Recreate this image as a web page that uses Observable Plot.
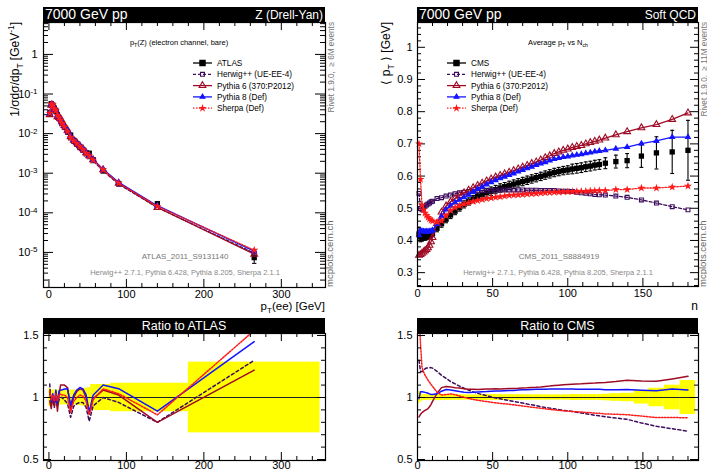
<!DOCTYPE html>
<html>
<head>
<meta charset="utf-8">
<script src="https://cdn.jsdelivr.net/npm/d3@7"></script>
<script src="https://cdn.jsdelivr.net/npm/@observablehq/plot@0.6"></script>
<style>
  html, body { margin: 0; padding: 0; background: #fff; }
  #root { position: relative; width: 707px; height: 471px; overflow: hidden; background: #fff; }
  #root text { white-space: pre; }
</style>
</head>
<body>
<div id="root"></div>
<script>
// ================= DATA: Z (Drell-Yan) pT, ATLAS_2011_S9131140 =================
const zBinLo = [0,2,4,6,8,10,12,14,16,18,22,26,30,34,38,42,46,50,54,60,80,100,180];
const zBinHi = [2,4,6,8,10,12,14,16,18,22,26,30,34,38,42,46,50,54,60,80,100,180,350];
const atlas = [0.031,0.057,0.052,0.044,0.037,0.030,0.025,0.0215,0.018,0.0145,0.0113,0.0092,0.0068,0.0056,0.0046,0.0039,0.0033,0.0032,0.0022,0.00115,0.00055,0.00017,0.0000074];
const atlasRelErr = [0.07,0.06,0.06,0.06,0.06,0.06,0.06,0.06,0.06,0.06,0.06,0.06,0.06,0.06,0.065,0.07,0.075,0.08,0.105,0.105,0.115,0.115,0.285];
const zHerwig  = [0.0344,0.0536,0.052,0.0405,0.0377,0.0279,0.0245,0.0215,0.018,0.0142,0.01074,0.00773,0.00632,0.00532,0.00442,0.00374,0.00304,0.00259,0.00205,0.00115,0.000528,0.000136,0.00000962];
const zPythia6 = [0.0301,0.0519,0.052,0.0409,0.0377,0.0267,0.0255,0.02365,0.0198,0.01595,0.0122,0.00837,0.0068,0.00588,0.00492,0.00413,0.0033,0.00278,0.00218,0.001219,0.000561,0.000136,0.00000903];
const zPythia8 = [0.0322,0.0553,0.0536,0.0422,0.0392,0.0285,0.0263,0.0228,0.0191,0.0155,0.0121,0.00865,0.00694,0.00594,0.00497,0.00417,0.00337,0.00282,0.00224,0.001265,0.000589,0.0001513,0.00001073];
const zSherpa  = [0.0326,0.0559,0.053,0.0427,0.0381,0.0291,0.0255,0.0221,0.01836,0.01479,0.0113,0.0081,0.0066,0.0056,0.00469,0.00394,0.0032,0.00275,0.00216,0.00123,0.000567,0.0001462,0.0000114];
const zTickX = [0,100,200,300];
const zTickY = [1,1e-1,1e-2,1e-3,1e-4,1e-5];

// ================= DATA: Soft QCD <pT> vs Nch, CMS_2011_S8884919 =================
const nch = [1,2,3,4,5,6,7,8,9,10,
  13,16,19,22,25,28,31,34,37,40,
  43,46,49,52,55,58,61,64,67,70,
  73,76,79,82,85,88,91,94,97,100,
  103,106,109,112,115,118,121,125,132,139.5,
  149,159,169.5,180];
const nchLastEdge = 185;
const cms = [0.420,0.412,0.410,0.410,0.411,0.412,0.414,0.416,0.419,0.422,
  0.438,0.452,0.466,0.479,0.491,0.502,0.512,0.521,0.529,0.536,
  0.542,0.548,0.553,0.558,0.563,0.567,0.571,0.575,0.579,0.583,
  0.587,0.591,0.595,0.599,0.603,0.607,0.611,0.614,0.617,0.619,
  0.622,0.624,0.626,0.629,0.631,0.634,0.636,0.640,0.645,0.648,
  0.662,0.672,0.675,0.680];
const cmsErr = [0.021,0.016,0.012,0.010,0.010,0.010,0.010,0.010,0.010,0.010,
  0.011,0.011,0.011,0.011,0.011,0.011,0.011,0.011,0.011,0.011,
  0.013,0.013,0.013,0.013,0.013,0.013,0.013,0.013,0.013,0.013,
  0.013,0.013,0.013,0.013,0.013,0.013,0.013,0.013,0.013,0.013,
  0.015,0.015,0.015,0.015,0.015,0.015,0.015,0.017,0.020,0.022,
  0.035,0.050,0.067,0.093];
const qHerwig = [0.546,0.499,0.495,0.500,0.506,0.510,0.513,0.516,0.520,0.522,
  0.530,0.533,0.538,0.541,0.545,0.548,0.550,0.552,0.553,0.554,
  0.555,0.556,0.556,0.556,0.557,0.557,0.557,0.557,0.557,0.557,
  0.556,0.556,0.556,0.555,0.555,0.555,0.555,0.554,0.553,0.553,
  0.552,0.550,0.548,0.547,0.545,0.543,0.542,0.541,0.538,0.534,
  0.526,0.516,0.505,0.495];
const qPythia6 = [0.354,0.356,0.360,0.364,0.368,0.372,0.377,0.385,0.396,0.409,
  0.453,0.488,0.507,0.520,0.530,0.540,0.548,0.556,0.564,0.571,
  0.578,0.585,0.591,0.597,0.602,0.607,0.612,0.617,0.622,0.628,
  0.633,0.639,0.644,0.650,0.657,0.663,0.670,0.675,0.680,0.684,
  0.689,0.692,0.695,0.700,0.704,0.708,0.712,0.718,0.728,0.738,
  0.750,0.760,0.776,0.796];
const qPythia8 = [0.416,0.431,0.429,0.428,0.428,0.428,0.428,0.428,0.429,0.432,
  0.451,0.475,0.496,0.508,0.518,0.526,0.534,0.542,0.551,0.560,
  0.567,0.574,0.581,0.587,0.593,0.598,0.603,0.608,0.614,0.619,
  0.624,0.629,0.634,0.639,0.643,0.648,0.653,0.656,0.659,0.661,
  0.664,0.666,0.668,0.671,0.673,0.676,0.678,0.680,0.685,0.690,
  0.701,0.709,0.721,0.721];
const qSherpa = [0.700,0.590,0.510,0.495,0.485,0.478,0.472,0.467,0.463,0.460,
  0.457,0.461,0.477,0.493,0.502,0.508,0.513,0.517,0.521,0.524,
  0.527,0.530,0.532,0.534,0.536,0.538,0.540,0.541,0.542,0.543,
  0.544,0.545,0.546,0.547,0.548,0.549,0.550,0.550,0.551,0.551,
  0.552,0.552,0.553,0.553,0.554,0.554,0.555,0.555,0.558,0.558,
  0.563,0.563,0.566,0.569];
const qTickX = [0,50,100,150];
const qTickY = [0.3,0.4,0.5,0.6,0.7,0.8,0.9,1];
const ratioTickY = [0.5,1,1.5];

// ================= STYLES =================
const FONT = '"Liberation Sans", Arial, Helvetica, sans-serif';
const dataSty   = {label: null, color: "#000000", dash: null, symbol: "square", fill: "#000000", r: 3.0};
const herwigSty = {label: "Herwig++ (UE-EE-4)", color: "#3d0c5e", dash: "3,2", symbol: "square", fill: "none", r: 2.2};
const py6Sty    = {label: "Pythia 6 (370:P2012)", color: "#9e0b25", dash: null, symbol: "triangle", fill: "none", r: 2.5};
const py8Sty    = {label: "Pythia 8 (Def)", color: "#1414ff", dash: null, symbol: "triangle", fill: "#1414ff", r: 1.8};
const sherpaSty = {label: "Sherpa (Def)", color: "#ff1a1a", dash: "1.5,1.5", symbol: "star", fill: "#ff1a1a", r: 1.5};

const root = document.getElementById("root");
const baseStyle = {fontFamily: FONT, fontSize: "11px", color: "black", background: "transparent", overflow: "visible"};
function place(svg, left, top) {
  svg.style.position = "absolute";
  svg.style.left = left + "px";
  svg.style.top = top + "px";
  svg.style.maxWidth = "none";
  svg.style.background = "transparent";
  root.appendChild(svg);
  return svg;
}
function steps(a, b, s) { const out = []; for (let k = 0; a + k * s <= b + 1e-9; k++) out.push(+(a + k * s).toFixed(6)); return out; }
function frameTicks(W, H, xMaj, xMin, yMaj, yMin, xL = [8, 4], yL = [8, 4]) {
  const s = {stroke: "black", strokeWidth: 1};
  return [
    Plot.ruleX(xMaj, {...s, insetTop: H - xL[0]}), Plot.ruleX(xMaj, {...s, insetBottom: H - xL[0]}),
    Plot.ruleX(xMin, {...s, insetTop: H - xL[1]}), Plot.ruleX(xMin, {...s, insetBottom: H - xL[1]}),
    Plot.ruleY(yMaj, {...s, insetRight: W - yL[0]}), Plot.ruleY(yMaj, {...s, insetLeft: W - yL[0]}),
    Plot.ruleY(yMin, {...s, insetRight: W - yL[1]}), Plot.ruleY(yMin, {...s, insetLeft: W - yL[1]})
  ];
}
const capSym = {draw(ctx, size) { const w = Math.sqrt(size) / 2; ctx.moveTo(-w, 0); ctx.lineTo(w, 0); }};
function dataMarks(idx, xf, vals, lo, hi, capR) {
  return [
    Plot.ruleX(idx, {x: xf, y1: lo, y2: hi, stroke: "black", strokeWidth: 1.1}),
    Plot.dot(idx, {x: xf, y: lo, symbol: capSym, r: capR, stroke: "black", fill: "none", strokeWidth: 1.1}),
    Plot.dot(idx, {x: xf, y: hi, symbol: capSym, r: capR, stroke: "black", fill: "none", strokeWidth: 1.1}),
    Plot.dot(idx, {x: xf, y: i => vals[i], symbol: "square", r: dataSty.r, fill: "black"})
  ];
}
function mcMarks(idx, xf, vals, st) {
  const line = {x: xf, y: i => vals[i], stroke: st.color, strokeWidth: 1.3};
  if (st.dash) line.strokeDasharray = st.dash;
  return [
    Plot.line(idx, line),
    Plot.dot(idx, {x: xf, y: i => vals[i], symbol: st.symbol, r: st.r, stroke: st.color, fill: st.fill, strokeWidth: 1.1})
  ];
}
function ratioLine(idx, xf, vals, ref, st) {
  const o = {x: xf, y: i => vals[i] / ref[i], stroke: st.color, strokeWidth: 1.5, clip: true};
  if (st.dash) o.strokeDasharray = st.dash === "3,2" ? "3,2.5" : "1.5,1.5";
  return Plot.line(idx, o);
}

// ================= LEFT MAIN =================
const zIdx = d3.range(atlas.length);
const zX = i => (zBinLo[i] + zBinHi[i]) / 2;
const zMC = [[zHerwig, herwigSty], [zPythia6, py6Sty], [zPythia8, py8Sty], [zSherpa, sherpaSty]];
const zYDomain = [1.3e-6, 6.4];
const logMinor = [];
for (let k = -6; k <= 0; k++) for (let m = 2; m <= 9; m++) { const v = m * 10 ** k; if (v > zYDomain[0] && v < zYDomain[1]) logMinor.push(v); }
const LM = {w: 345, h: 312, t: 22, r: 20, b: 25, l: 43};
const mainL = Plot.plot({
  width: LM.w, height: LM.h, marginTop: LM.t, marginRight: LM.r, marginBottom: LM.b, marginLeft: LM.l,
  style: baseStyle,
  x: {domain: [-7, 357]},
  y: {type: "log", domain: zYDomain},
  marks: [
    ...frameTicks(LM.w - LM.l - LM.r, LM.h - LM.t - LM.b, zTickX, steps(20, 340, 20).filter(v => v % 100), zTickY, logMinor, [8, 4], [10, 5]),
    ...dataMarks(zIdx, zX, atlas, i => atlas[i] * (1 - atlasRelErr[i]), i => atlas[i] * (1 + atlasRelErr[i]), 2.4),
    ...zMC.flatMap(([v, st]) => mcMarks(zIdx, zX, v, st)),
    Plot.frame({stroke: "black", strokeWidth: 1.2}),
    Plot.axisX({ticks: zTickX, tickSize: 0, tickPadding: 3, fontSize: 11, label: null}),
    Plot.axisY({ticks: zTickY, tickSize: 0, tickPadding: 6, fontSize: 11, label: null,
      tickFormat: d => d === 1 ? "1" : "10^" + Math.round(Math.log10(d))})
  ]
});
d3.select(mainL).selectAll("text").each(function() {
  const s = this.textContent;
  if (s.startsWith("10^")) {
    const e = s.slice(3);
    this.textContent = "10";
    d3.select(this).append("tspan").attr("dy", "-0.45em").attr("font-size", "8px").text(e);
  }
});
place(mainL, 0, 0);

// ================= LEFT RATIO =================
const RM = {w: 345, h: 171, t: 33, r: 20, b: 11, l: 43};
const ratioDomain = [0.492, 1.516];
const ratioMinor = steps(0.6, 1.4, 0.1).filter(v => Math.abs(v - 1) > 1e-6);
const ratioL = Plot.plot({
  width: RM.w, height: RM.h, marginTop: RM.t, marginRight: RM.r, marginBottom: RM.b, marginLeft: RM.l,
  style: baseStyle,
  x: {domain: [-7, 357]},
  y: {domain: ratioDomain},
  marks: [
    Plot.rect(zIdx, {x1: i => zBinLo[i], x2: i => zBinHi[i], y1: i => 1 - atlasRelErr[i], y2: i => 1 + atlasRelErr[i], fill: "#ffff00"}),
    Plot.ruleY([1], {stroke: "#222", strokeWidth: 1.2}),
    ...zMC.map(([v, st]) => ratioLine(zIdx, zX, v, atlas, st)),
    ...frameTicks(RM.w - RM.l - RM.r, RM.h - RM.t - RM.b, zTickX, steps(20, 340, 20).filter(v => v % 100), ratioTickY, ratioMinor),
    Plot.frame({stroke: "black", strokeWidth: 1.2}),
    Plot.axisX({ticks: zTickX, tickSize: 0, tickPadding: 1, fontSize: 11, label: null}),
    Plot.axisY({ticks: ratioTickY, tickSize: 0, tickPadding: 5, fontSize: 11, label: null, tickFormat: d => String(d)})
  ]
});
place(ratioL, 0, 300);

// ================= RIGHT MAIN =================
const qIdx = d3.range(nch.length);
const qX = i => nch[i];
const qMC = [[qHerwig, herwigSty], [qPythia6, py6Sty], [qPythia8, py8Sty], [qSherpa, sherpaSty]];
const QM = {w: 345, h: 312, t: 22, r: 9, b: 26, l: 55};
const mainR = Plot.plot({
  width: QM.w, height: QM.h, marginTop: QM.t, marginRight: QM.r, marginBottom: QM.b, marginLeft: QM.l,
  style: baseStyle,
  x: {domain: [0, 187]},
  y: {domain: [0.257, 1.077]},
  marks: [
    ...frameTicks(QM.w - QM.l - QM.r, QM.h - QM.t - QM.b, qTickX, steps(10, 180, 10).filter(v => v % 50), qTickY, steps(0.26, 1.06, 0.02).filter(v => Math.abs(v * 10 - Math.round(v * 10)) > 1e-6)),
    ...dataMarks(qIdx, qX, cms, i => cms[i] - cmsErr[i], i => cms[i] + cmsErr[i], 2.2),
    ...qMC.flatMap(([v, st]) => mcMarks(qIdx, qX, v, st)),
    Plot.frame({stroke: "black", strokeWidth: 1.2}),
    Plot.axisX({ticks: qTickX, tickSize: 0, tickPadding: 3, fontSize: 11, label: null}),
    Plot.axisY({ticks: qTickY, tickSize: 0, tickPadding: 5, fontSize: 11, label: null, tickFormat: d => d === 1 ? "1" : d.toFixed(1)})
  ]
});
place(mainR, 362, 0);

// ================= RIGHT RATIO =================
const nLo = nch.map((n, i) => i === 0 ? n - 0.5 : (nch[i - 1] + n) / 2);
const nHi = nch.map((n, i) => i === nch.length - 1 ? nchLastEdge : (n + nch[i + 1]) / 2);
const QR = {w: 345, h: 171, t: 33, r: 9, b: 11, l: 55};
const ratioR = Plot.plot({
  width: QR.w, height: QR.h, marginTop: QR.t, marginRight: QR.r, marginBottom: QR.b, marginLeft: QR.l,
  style: baseStyle,
  x: {domain: [0, 187]},
  y: {domain: ratioDomain},
  marks: [
    Plot.rect(qIdx, {x1: i => nLo[i], x2: i => nHi[i], y1: i => 1 - cmsErr[i] / cms[i], y2: i => 1 + cmsErr[i] / cms[i], fill: "#ffff00"}),
    Plot.ruleY([1], {stroke: "#222", strokeWidth: 1.2}),
    ...qMC.map(([v, st]) => ratioLine(qIdx, qX, v, cms, st)),
    ...frameTicks(QR.w - QR.l - QR.r, QR.h - QR.t - QR.b, qTickX, steps(10, 180, 10).filter(v => v % 50), ratioTickY, ratioMinor),
    Plot.frame({stroke: "black", strokeWidth: 1.2}),
    Plot.axisX({ticks: qTickX, tickSize: 0, tickPadding: 1, fontSize: 11, label: null}),
    Plot.axisY({ticks: ratioTickY, tickSize: 0, tickPadding: 5, fontSize: 11, label: null, tickFormat: d => String(d)})
  ]
});
place(ratioR, 362, 300);

// ================= OVERLAY: titles, legends, labels =================
const ov = d3.select(root).append("svg").attr("width", 707).attr("height", 471)
  .style("position", "absolute").style("left", "0px").style("top", "0px").style("font-family", FONT);
function bar(x, y, w, h) { ov.append("rect").attr("x", x).attr("y", y).attr("width", w).attr("height", h).attr("fill", "black"); }
function label(x, y, parts, o = {}) {
  const size = o.size ?? 12;
  const t = ov.append("text").attr("font-size", size).attr("fill", o.fill ?? "black")
    .attr("text-anchor", o.anchor ?? "start")
    .attr("transform", `translate(${x},${y})` + (o.rotate ? ` rotate(${o.rotate})` : ""));
  let cur = 0;
  for (const p of (typeof parts === "string" ? [parts] : parts)) {
    const s = typeof p === "string" ? {t: p} : p;
    const target = s.sub ? size * 0.3 : s.sup ? -size * 0.45 : 0;
    const ts = t.append("tspan").text(s.t);
    if (target !== cur) ts.attr("dy", target - cur);
    if (s.sub || s.sup) ts.attr("font-size", size * 0.7);
    cur = target;
  }
  return t;
}
function legend(x0, y0, entries) {
  entries.forEach((e, i) => {
    const y = y0 + i * 11.3;
    const ln = ov.append("line").attr("x1", x0).attr("x2", x0 + 19).attr("y1", y).attr("y2", y)
      .attr("stroke", e.color).attr("stroke-width", 1.3);
    if (e.dash) ln.attr("stroke-dasharray", e.dash);
    const sym = {square: d3.symbolSquare, triangle: d3.symbolTriangle, star: d3.symbolStar}[e.symbol];
    ov.append("path").attr("d", d3.symbol(sym, Math.PI * e.r * e.r)())
      .attr("transform", `translate(${x0 + 9.5},${y})`)
      .attr("fill", e.fill).attr("stroke", e.color).attr("stroke-width", 1.1);
    label(x0 + 24, y + 3, e.label, {size: 8.2});
  });
}

// Left panel decorations
bar(43, 7, 282, 15);
label(45, 18.5, "7000 GeV pp", {size: 14, fill: "white"});
label(323, 18.5, "Z (Drell-Yan)", {size: 12, anchor: "end", fill: "white"});
label(179, 45, [{t: "p"}, {t: "T", sub: true}, {t: "(Z) (electron channel, bare)"}], {size: 7.5, anchor: "middle"});
legend(193, 63, [{...dataSty, label: "ATLAS"}, herwigSty, py6Sty, py8Sty, sherpaSty]);
label(185, 259, "ATLAS_2011_S9131140", {size: 8, anchor: "middle", fill: "#777"});
label(185, 275, "Herwig++ 2.7.1, Pythia 6.428, Pythia 8.205, Sherpa 2.1.1", {size: 7.5, anchor: "middle", fill: "#888"});
label(334, 22, "Rivet 1.9.0,  \u2265 6M events", {size: 8.2, anchor: "end", rotate: -90, fill: "#777"});
label(333, 287, "mcplots.cern.ch", {size: 9.5, anchor: "start", rotate: -90, fill: "#666"});
label(19, 22, [{t: "1/\u03c3d\u03c3/dp"}, {t: "T", sub: true}, {t: " [GeV"}, {t: "-1", sup: true}, {t: "]"}], {size: 12, anchor: "end", rotate: -90});
label(325, 310, [{t: "p"}, {t: "T", sub: true}, {t: "(ee) [GeV]"}], {size: 11.5, anchor: "end"});
bar(43, 318, 282, 15);
label(184, 330, "Ratio to ATLAS", {size: 12.5, anchor: "middle", fill: "white"});

// Right panel decorations
bar(417, 7, 281, 15);
label(419, 18.5, "7000 GeV pp", {size: 14, fill: "white"});
label(696, 18.5, "Soft QCD", {size: 12, anchor: "end", fill: "white"});
label(558, 45, [{t: "Average p"}, {t: "T", sub: true}, {t: " vs N"}, {t: "ch", sub: true}], {size: 7.5, anchor: "middle"});
legend(447, 63, [{...dataSty, label: "CMS"}, herwigSty, py6Sty, py8Sty, sherpaSty]);
label(559, 259, "CMS_2011_S8884919", {size: 8, anchor: "middle", fill: "#777"});
label(558, 275, "Herwig++ 2.7.1, Pythia 6.428, Pythia 8.205, Sherpa 2.1.1", {size: 7.5, anchor: "middle", fill: "#888"});
label(706.5, 22, "Rivet 1.9.0,  \u2265 11M events", {size: 8.2, anchor: "end", rotate: -90, fill: "#777"});
label(706, 287, "mcplots.cern.ch", {size: 9.5, anchor: "start", rotate: -90, fill: "#666"});
label(390, 22, [{t: "\u27e8 p"}, {t: "T", sub: true}, {t: " \u27e9 [GeV]"}], {size: 12, anchor: "end", rotate: -90});
label(698, 310, "n", {size: 12, anchor: "end"});
bar(417, 318, 281, 15);
label(557.5, 330, "Ratio to CMS", {size: 12.5, anchor: "middle", fill: "white"});
</script>
</body>
</html>
